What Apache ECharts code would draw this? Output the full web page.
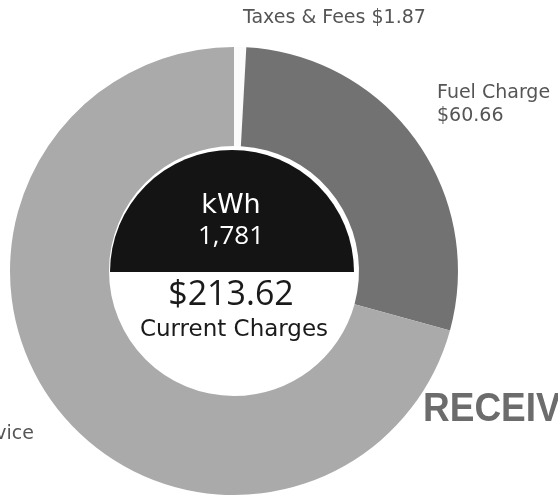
<!DOCTYPE html>
<html>
<head>
<meta charset="utf-8">
<script src="https://cdn.jsdelivr.net/npm/echarts@6/dist/echarts.min.js"></script>
<style>
html,body{margin:0;padding:0;background:#fff;}
#c{width:558px;height:499px;}
</style>
</head>
<body>
<div id="c"></div>
<script>
// ---- data ----
var categories = ['Taxes & Fees', 'Fuel Charge', 'Electric Service'];
var amounts = [1.87, 60.66, 151.09];
var sliceColors = ['#fbfbfb', '#727272', '#aaaaaa'];
var usageLabel = 'kWh';
var usageValue = '1,781';
var totalLabel = '$213.62';
var totalCaption = 'Current Charges';
var stampText = 'RECEIVED';

var WIDE = '"DejaVu Sans", sans-serif';
var OPEN = '"Open Sans", sans-serif';
var labelFontSize = 19;

function measure(t, font) {
  var cv = document.createElement('canvas').getContext('2d');
  cv.font = font;
  return cv.measureText(t).width;
}
var elecW = measure(categories[2], labelFontSize + 'px "DejaVu Sans"');

var chart = echarts.init(document.getElementById('c'), null, {renderer: 'canvas'});

var pieData = categories.map(function (c, i) {
  return {name: c, value: amounts[i], itemStyle: {color: sliceColors[i]}};
});

function fmtLabel(p) {
  var v = '$' + p.value.toFixed(2);
  if (p.dataIndex === 0) return p.name + ' ' + v;
  return p.name + '\n' + v;
}

var labelPos = [
  {x: 243, y: 7, align: 'left', verticalAlign: 'top'},
  {x: 437, y: 82, align: 'left', verticalAlign: 'top'},
  {x: 34 - elecW, y: 423, align: 'left', verticalAlign: 'top'}
];

var Z = 50;
chart.setOption({
  animation: false,
  backgroundColor: '#ffffff',
  series: [
    {
      type: 'pie',
      center: [234, 271],
      radius: [125, 224],
      startAngle: 90,
      clockwise: true,
      silent: true,
      avoidLabelOverlap: false,
      data: pieData,
      label: {
        show: true,
        position: 'outside',
        formatter: fmtLabel,
        fontFamily: WIDE,
        fontSize: labelFontSize,
        lineHeight: 23,
        color: '#555555',
        overflow: 'none',
        width: 300
      },
      labelLine: {show: false},
      labelLayout: function (p) {
        var o = labelPos[p.dataIndex];
        return {x: o.x, y: o.y, align: o.align, verticalAlign: o.verticalAlign, hideOverlap: false, moveOverlap: null};
      }
    },
    {
      type: 'pie',
      center: [232, 272],
      radius: [0, 122],
      startAngle: 180,
      clockwise: true,
      silent: true,
      label: {show: false},
      labelLine: {show: false},
      data: [
        {value: 1, name: 'top', itemStyle: {color: '#141414'}},
        {value: 1, name: 'bottom', itemStyle: {color: '#ffffff'}}
      ]
    }
  ],
  graphic: [
    {type: 'text', z: Z, x: 231, y: 206, style: {text: usageLabel, fill: '#ffffff', font: '27px ' + WIDE, textAlign: 'center', textVerticalAlign: 'middle'}},
    {type: 'text', z: Z, x: 231, y: 237, style: {text: usageValue, fill: '#ffffff', font: '26px ' + OPEN, textAlign: 'center', textVerticalAlign: 'middle'}},
    {type: 'text', z: Z, x: 231, y: 295, style: {text: totalLabel, fill: '#1a1a1a', font: '34px ' + OPEN, textAlign: 'center', textVerticalAlign: 'middle'}},
    {type: 'text', z: Z, x: 234, y: 330, style: {text: totalCaption, fill: '#1a1a1a', font: '23px ' + WIDE, textAlign: 'center', textVerticalAlign: 'middle'}},
    {type: 'text', z: Z, x: 423, y: 446, scaleY: 1.08, originX: 423, originY: 446, style: {text: stampText, fill: '#6c6c6c', font: 'bold 37px "Liberation Sans", Arial, sans-serif', textAlign: 'left', textVerticalAlign: 'middle'}}
  ]
});
</script>
</body>
</html>
